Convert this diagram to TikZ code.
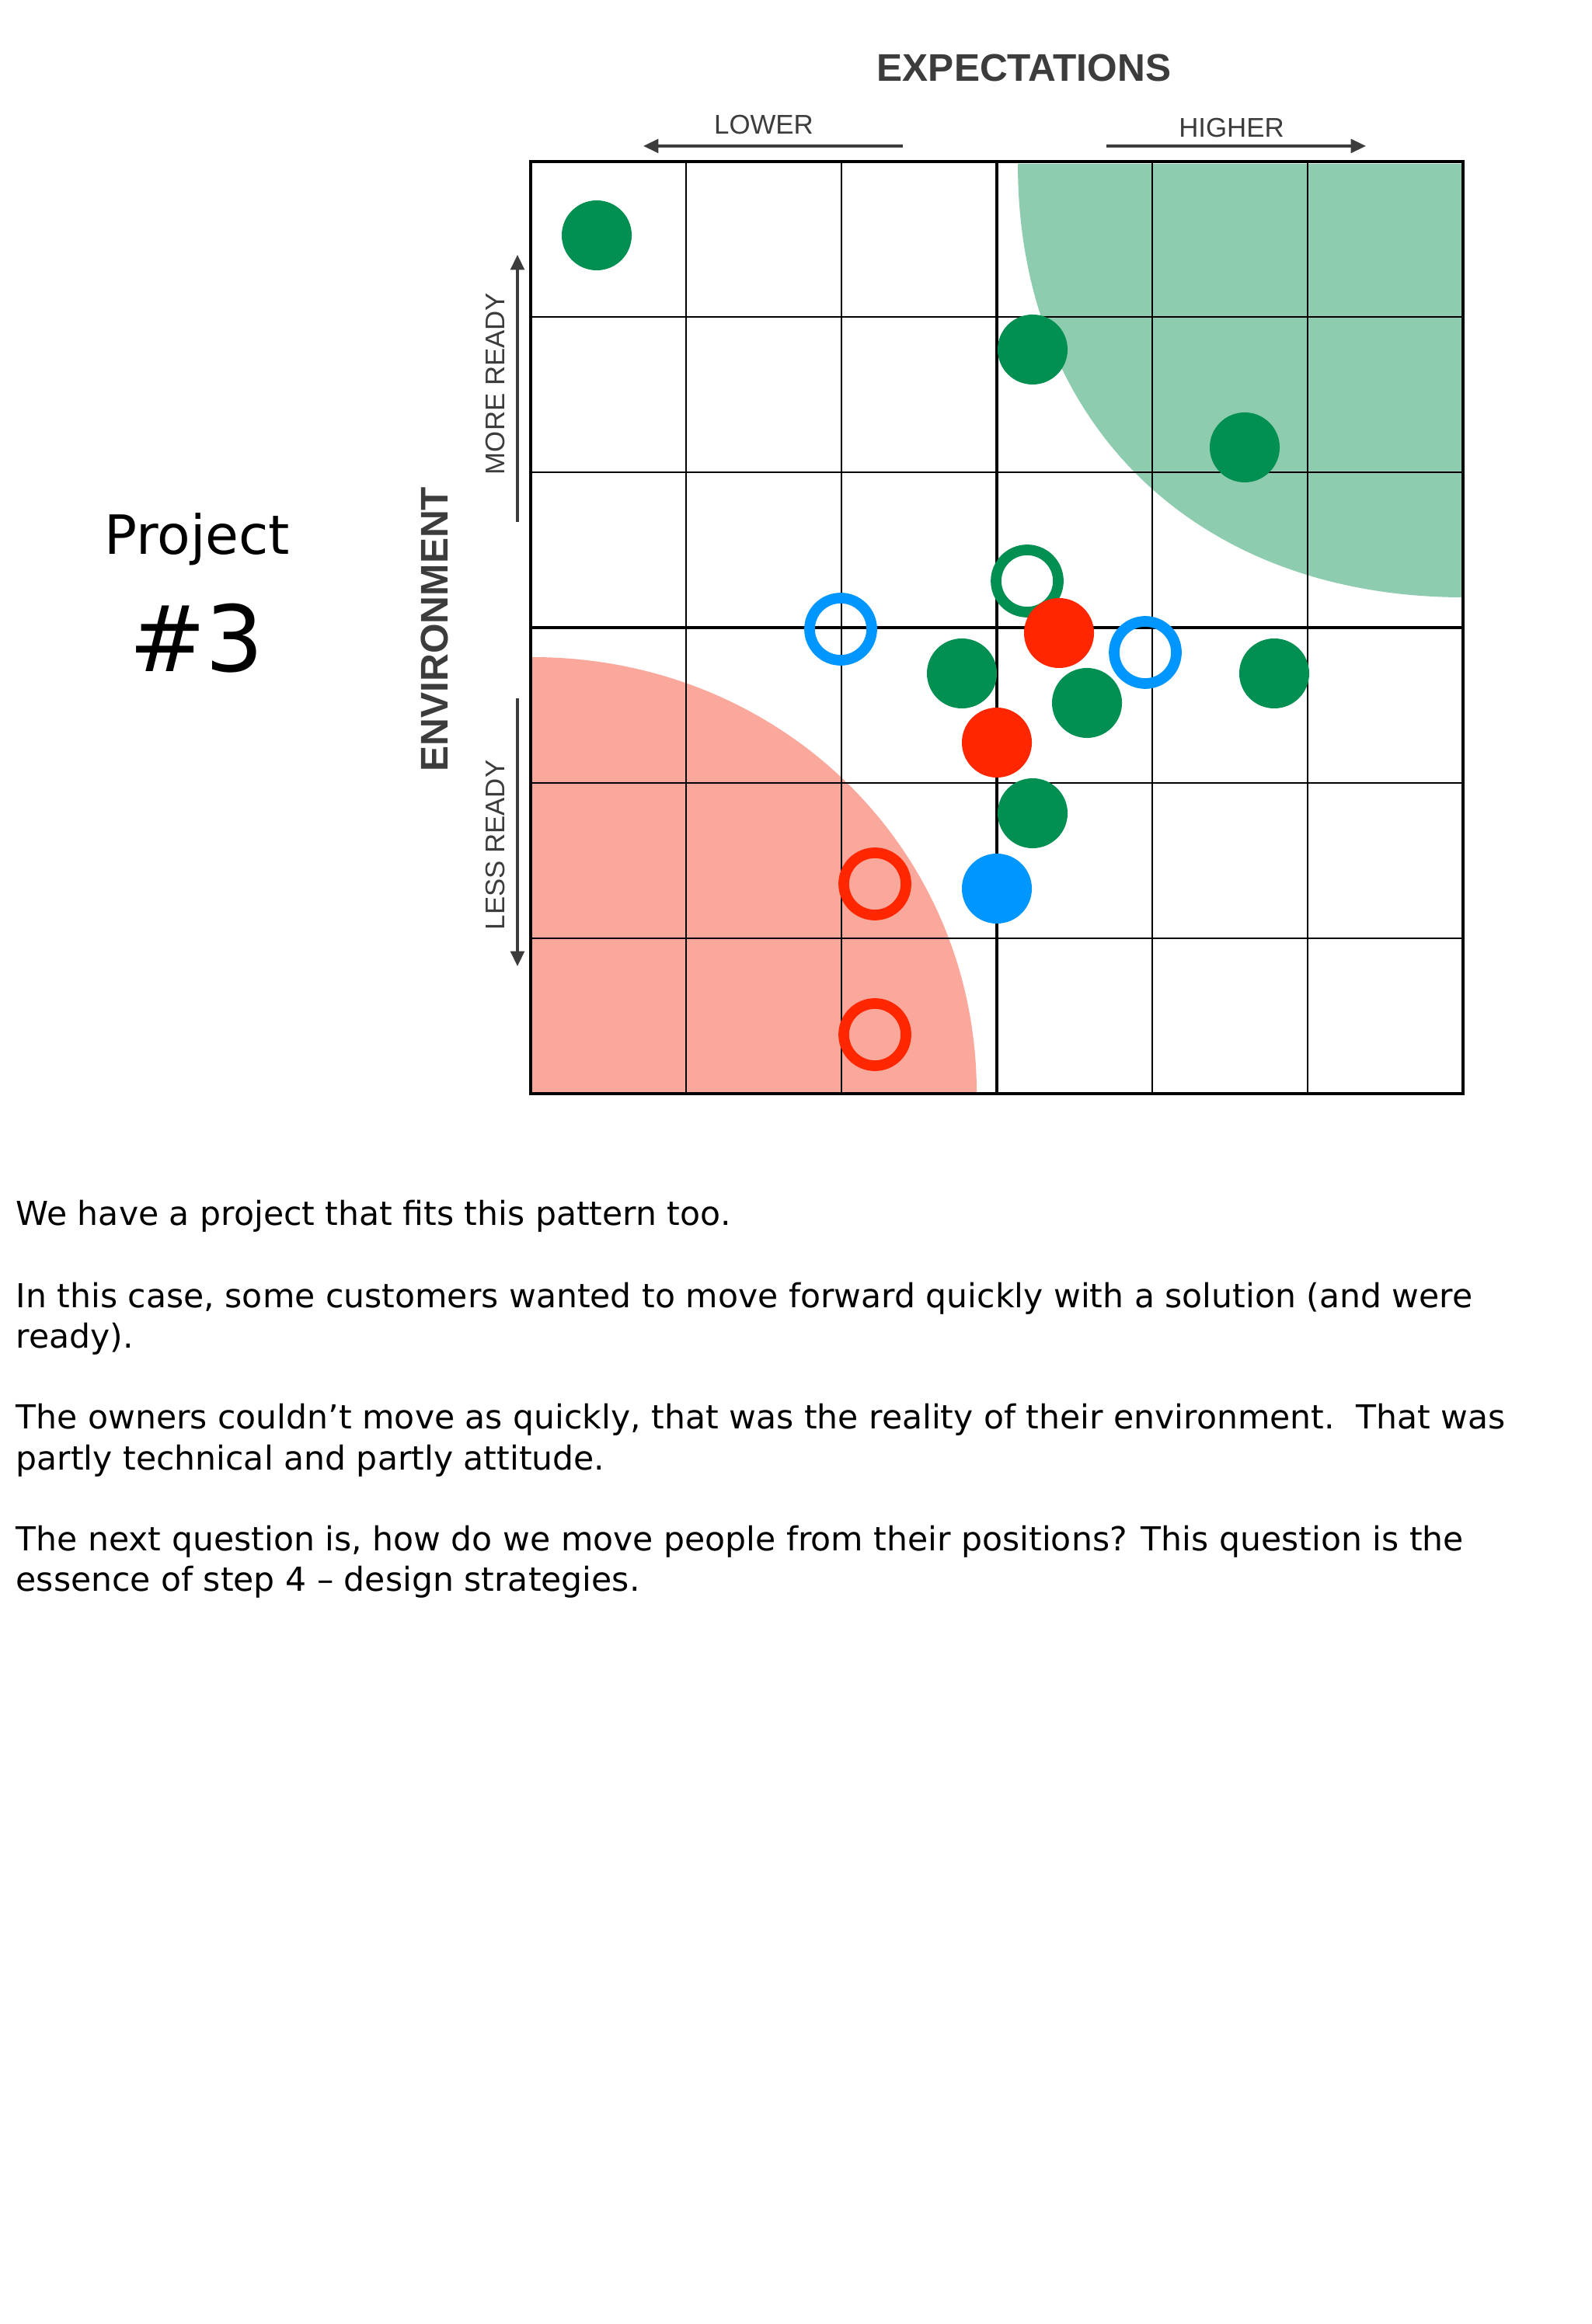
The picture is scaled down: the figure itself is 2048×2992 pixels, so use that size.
\documentclass[tikz,border=0pt]{standalone}
\usepackage{fontspec}
\setmainfont{DejaVu Sans}
\newfontfamily\labelfont{Liberation Sans}
\usetikzlibrary{arrows.meta}
\definecolor{dotgreen}{RGB}{2,143,82}
\definecolor{dotred}{RGB}{255,38,0}
\definecolor{dotblue}{RGB}{0,150,255}
\definecolor{zonegreen}{RGB}{142,204,176}
\definecolor{zonered}{RGB}{250,168,155}
\definecolor{axisgray}{RGB}{60,60,60}

\begin{document}
\begin{tikzpicture}[x=0.01cm, y=-0.01cm,
    dot/.style={circle, inner sep=0pt, minimum size=0.9cm},
    ring/.style={circle, draw, line width=3.9pt, inner sep=0pt, minimum size=0.8cm},
    gridline/.style={line width=0.7pt},
    midline/.style={line width=1.15pt},
    frame/.style={line width=1.4pt},
    axarr/.style={-{Triangle[length=5.5pt, width=5pt]}, line width=1pt, color=axisgray},
    axtitle/.style={font=\labelfont\bfseries\fontsize{14.1}{17}\selectfont, text=axisgray, inner sep=0pt},
    axlbl/.style={font=\labelfont\fontsize{9.9}{12}\selectfont, text=axisgray, inner sep=0pt},
    body/.style={font=\fontsize{12.1}{14.5}\selectfont, anchor=base west, inner sep=0pt}
]
\useasboundingbox[fill=white] (0,0) rectangle (2048,2992);

\fill[zonegreen] (1310,211) .. controls (1310,546) and (1540,769) .. (1884,769) -- (1884,211) -- cycle;
\fill[zonered] (685,846) .. controls (1005,846) and (1257,1093) .. (1257,1407) -- (685,1407) -- cycle;

\foreach \i in {1,2,4,5} {
  \draw[gridline] ({683+200*\i},208) -- ({683+200*\i},1408);
  \draw[gridline] (683,{208+200*\i}) -- (1883,{208+200*\i});
}
\draw[midline] (1283,208) -- (1283,1408);
\draw[midline] (683,808) -- (1883,808);
\draw[frame] (683,208) rectangle (1883,1408);

\node[ring, draw=dotgreen] (gr1) at (1322,748) {};
\node[ring, draw=dotblue] (br1) at (1082,810) {};
\node[ring, draw=dotblue] (br2) at (1474,840) {};
\node[ring, draw=dotred] (rr1) at (1126,1138) {};
\node[ring, draw=dotred] (rr2) at (1126,1332) {};
\node[dot, fill=dotgreen] (g1) at (768,303) {};
\node[dot, fill=dotgreen] (g2) at (1329,450) {};
\node[dot, fill=dotgreen] (g3) at (1602,576) {};
\node[dot, fill=dotred] (r1) at (1363,815) {};
\node[dot, fill=dotgreen] (g4) at (1238,867) {};
\node[dot, fill=dotgreen] (g5) at (1640,867) {};
\node[dot, fill=dotgreen] (g6) at (1399,905) {};
\node[dot, fill=dotred] (r2) at (1283,956) {};
\node[dot, fill=dotgreen] (g7) at (1329,1047) {};
\node[dot, fill=dotblue] (b1) at (1283,1144) {};

\node[axtitle, anchor=base] (expect) at (1318,105) {EXPECTATIONS};
\node[axlbl, anchor=base] (lower) at (983,173) {LOWER};
\node[axlbl, anchor=base] (higher) at (1585,177) {HIGHER};
\coordinate (lowfrom) at (1162,188);
\coordinate (lowto) at (828,188);
\coordinate (highfrom) at (1424,188);
\coordinate (highto) at (1758,188);
\draw[axarr] (lowfrom) -- (lowto);
\draw[axarr] (highfrom) -- (highto);

\node[axtitle, anchor=base, rotate=90] (env) at (576,810) {ENVIRONMENT};
\node[axlbl, anchor=base, rotate=90] (more) at (649,494) {MORE READY};
\node[axlbl, anchor=base, rotate=90] (less) at (649,1088) {LESS READY};
\coordinate (morefrom) at (666,672);
\coordinate (moreto) at (666,328);
\coordinate (lessfrom) at (666,899);
\coordinate (lessto) at (666,1244);
\draw[axarr] (morefrom) -- (moreto);
\draw[axarr] (lessfrom) -- (lessto);

\node[font=\fontsize{19.8}{24}\selectfont, anchor=base, inner sep=0pt] (proj) at (254,714) {Project};
\node[font=\fontsize{33.5}{40}\selectfont, anchor=base, inner sep=0pt] (num) at (253,865) {\#3};

\node[body] (l1) at (20,1577) {We have a project that fits this pattern too.};
\node[body] (l2) at (20,1683) {In this case, some customers wanted to move forward quickly with a solution (and were};
\node[body] (l3) at (20,1735) {ready).};
\node[body] (l4) at (20,1839) {The owners couldn’t move as quickly, that was the reality of their environment.\ \ That was};
\node[body] (l5) at (20,1892) {partly technical and partly attitude.};
\node[body] (l6) at (20,1996) {The next question is, how do we move people from their positions? This question is the};
\node[body] (l7) at (20,2048) {essence of step 4 – design strategies.};
\end{tikzpicture}
\end{document}
